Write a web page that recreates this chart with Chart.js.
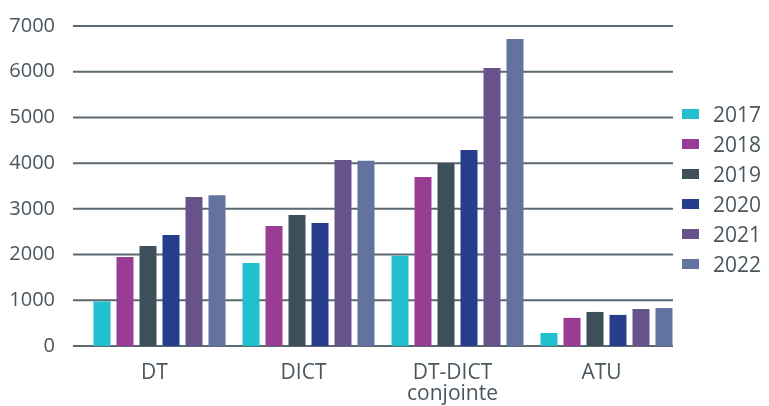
<!DOCTYPE html>
<html>
<head>
<meta charset="utf-8">
<script src="https://cdn.jsdelivr.net/npm/chart.js@4.4.1/dist/chart.umd.min.js"></script>
<style>
  html, body { margin: 0; padding: 0; background: #fff; }
  #wrap { width: 769px; height: 406px; position: relative; }
</style>
</head>
<body>
<div id="wrap"><canvas id="typesChart"></canvas></div>
<script>
// Categories and yearly values
const categories = ["DT", "DICT", ["DT-DICT", "conjointe"], "ATU"];
const years = ["2017", "2018", "2019", "2020", "2021", "2022"];
const v2017 = [975, 1815, 1975, 285];
const v2018 = [1945, 2625, 3695, 615];
const v2019 = [2190, 2865, 4000, 745];
const v2020 = [2430, 2690, 4290, 680];
const v2021 = [3260, 4070, 6080, 810];
const v2022 = [3300, 4050, 6715, 830];
const yTicks = [0, 1000, 2000, 3000, 4000, 5000, 6000, 7000];

const colors = ["#22bfcf", "#993d94", "#3d4f59", "#263e8c", "#68528b", "#63739f"];
const textColor = "#4a565e";
const font = "'Open Sans', sans-serif";

const series = [v2017, v2018, v2019, v2020, v2021, v2022];

// gridlines run a bit wider on the left than the bars area
const gridLines = {
    id: "gridLines",
    beforeDatasetsDraw(chart) {
        const y = chart.scales.y;
        const ctx = chart.ctx;
        ctx.save();
        ctx.strokeStyle = "#5d6970";
        ctx.lineWidth = 2;
        yTicks.forEach(t => {
            const py = y.getPixelForValue(t);
            ctx.beginPath();
            ctx.moveTo(73, py);
            ctx.lineTo(673, py);
            ctx.stroke();
        });
        ctx.restore();
    }
};

// legend drawn on the right
const sideLegend = {
    id: "sideLegend",
    afterDraw(chart) {
        const ctx = chart.ctx;
        ctx.save();
        ctx.font = "21px " + font;
        ctx.textBaseline = "middle";
        chart.data.datasets.forEach((ds, i) => {
            const cy = 114 + i * 30;
            ctx.fillStyle = ds.backgroundColor;
            ctx.fillRect(682, cy - 5, 17, 10);
            ctx.fillStyle = textColor;
            ctx.fillText(ds.label, 713, cy + 2);
        });
        ctx.restore();
    }
};

new Chart(document.getElementById("typesChart"), {
    type: "bar",
    data: {
        labels: categories,
        datasets: years.map((yr, i) => ({
            label: yr,
            data: series[i],
            backgroundColor: colors[i],
            categoryPercentage: 0.926,
            barPercentage: 0.739
        }))
    },
    options: {
        responsive: true,
        maintainAspectRatio: false,
        animation: false,
        layout: {
            padding: { top: 26, right: 88, bottom: 0, left: 0 }
        },
        plugins: {
            legend: { display: false },
            tooltip: { enabled: false }
        },
        scales: {
            x: {
                grid: { display: false },
                border: { display: false },
                ticks: {
                    color: textColor,
                    font: { family: font, size: 21, lineHeight: 1 },
                    padding: 9,
                    labelOffset: -5,
                    maxRotation: 0
                },
                afterFit(scale) { scale.height = 60; }
            },
            y: {
                min: 0,
                max: 7000,
                grid: { display: false },
                border: { display: false },
                ticks: {
                    stepSize: 1000,
                    color: textColor,
                    font: { family: font, size: 20 },
                    padding: 22,
                    callback: v => String(v)
                },
                afterFit(scale) {
                    scale.width = 85;
                    scale.paddingTop = 0;
                    scale.paddingBottom = 0;
                }
            }
        }
    },
    plugins: [gridLines, sideLegend]
});
</script>
</body>
</html>
